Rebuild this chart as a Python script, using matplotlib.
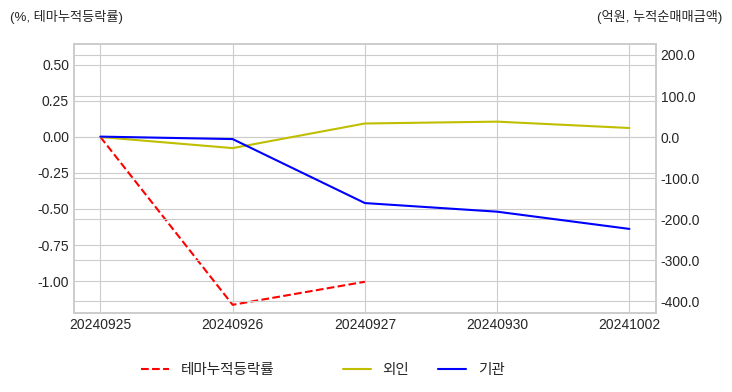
import matplotlib
matplotlib.use("Agg")
import matplotlib.pyplot as plt

# data
dates = ["20240925", "20240926", "20240927", "20240930", "20241002"]
theme_rate = [0.0, -1.165, -1.005]          # %, 테마누적등락률
foreign = [0.0, -27.0, 33.0, 37.5, 22.0]    # 억원, 외인
institution = [1.0, -5.0, -161.0, -182.0, -224.0]  # 억원, 기관

plt.style.use("seaborn-v0_8-whitegrid")
plt.rcParams["font.family"] = ["Liberation Sans", "Noto Sans CJK KR", "DejaVu Sans"]
plt.rcParams["axes.unicode_minus"] = False

fig = plt.figure(figsize=(7.32, 3.92), dpi=100)
ax = fig.add_axes([0.101, 0.2015, 0.795, 0.6865])
ax2 = ax.twinx()

x = list(range(len(dates)))
l1, = ax.plot(x[:len(theme_rate)], theme_rate, "r--", lw=1.5, label="테마누적등락률")
l2, = ax2.plot(x, foreign, color="y", lw=1.5, label="외인")
l3, = ax2.plot(x, institution, color="b", lw=1.5, label="기관")

ax.set_xticks(x)
ax.set_xticklabels(dates)
ax.set_xlim(-0.2, 4.2)
ax.set_ylim(-1.222, 0.646)
ax.set_yticks([0.5, 0.25, 0.0, -0.25, -0.5, -0.75, -1.0])
ax.set_yticklabels([f"{v:.2f}" for v in [0.5, 0.25, 0.0, -0.25, -0.5, -0.75, -1.0]])
ax2.set_ylim(-429, 227)
ax2.set_yticks([200, 100, 0, -100, -200, -300, -400])
ax2.set_yticklabels([f"{v:.1f}" for v in [200, 100, 0, -100, -200, -300, -400]])

for a in (ax, ax2):
    a.tick_params(labelsize=10, colors=".15", length=0)
    for s in a.spines.values():
        s.set_color(".8")
        s.set_linewidth(1.2)
ax2.grid(True, color=".8")

fig.text(10 / 732, 1 - 17 / 392, "(%, 테마누적등락률)", fontsize=9.5, color=".15",
         ha="left", va="center")
fig.text(722 / 732, 1 - 17 / 392, "(억원, 누적순매매금액)", fontsize=9.5, color=".15",
         ha="right", va="center")

fig.legend(handles=[l1], loc="center left", bbox_to_anchor=(128 / 732, 1 - 370 / 392),
           frameon=False, fontsize=10.5, handlelength=1.9)
fig.legend(handles=[l2, l3], loc="center left", bbox_to_anchor=(330 / 732, 1 - 370 / 392),
           frameon=False, fontsize=10.5, ncol=2, columnspacing=2.0, handlelength=1.9)

fig.savefig("out.png", dpi=100)
